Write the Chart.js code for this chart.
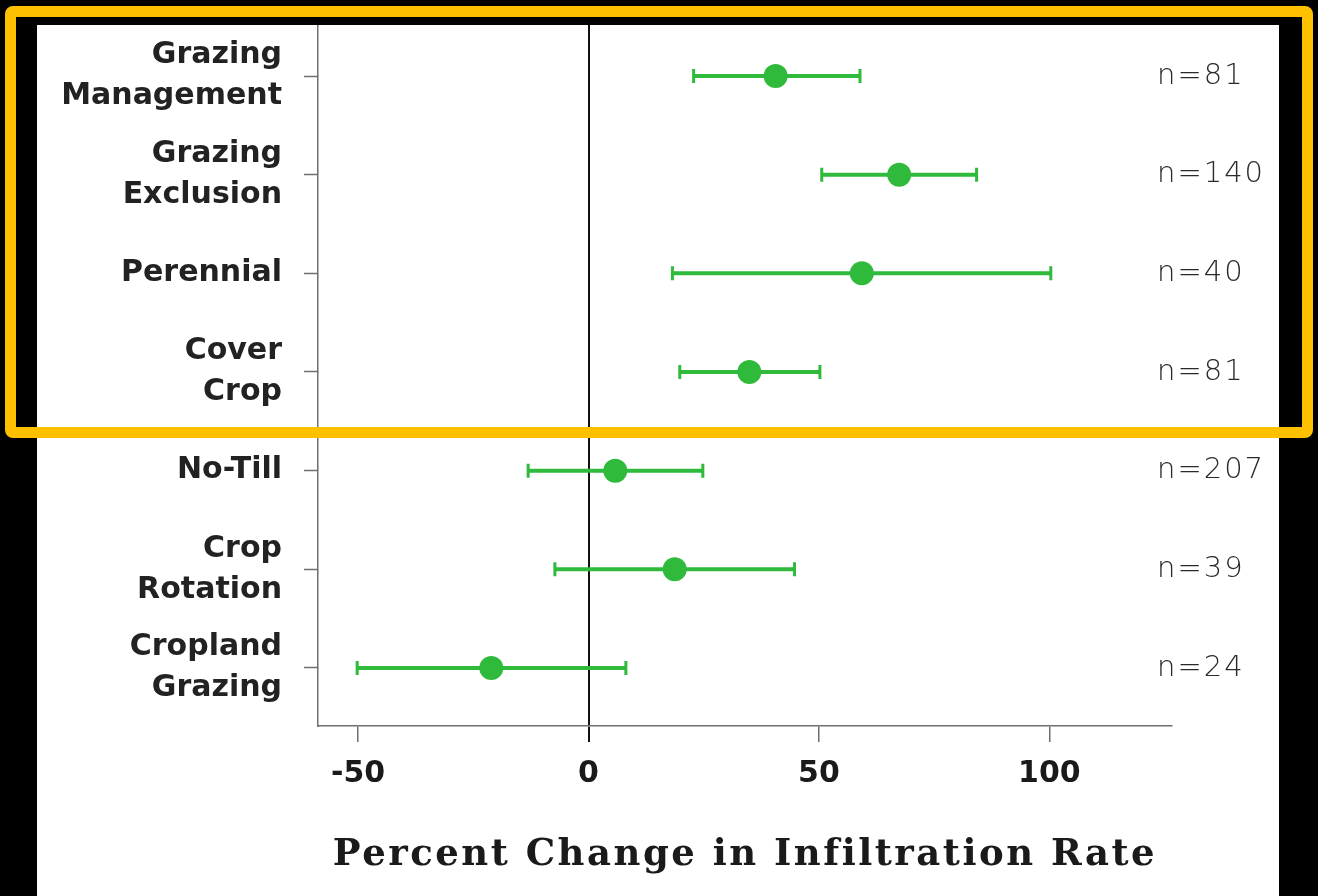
<!DOCTYPE html>
<html>
<head>
<meta charset="utf-8">
<script src="https://cdn.jsdelivr.net/npm/chart.js@4/dist/chart.umd.min.js"></script>
<style>
  html, body { margin: 0; padding: 0; background: #000; width: 1318px; height: 896px; overflow: hidden; }
  #panel { position: absolute; left: 37px; top: 25px; width: 1242px; height: 871px; background: #fff; }
  #box { position: absolute; left: 5px; top: 6px; width: 1308px; height: 432px; box-sizing: border-box;
         border: 11px solid #ffc000; border-radius: 8px; pointer-events: none; }
</style>
</head>
<body>
<div id="panel"><canvas id="forest" width="1242" height="871"></canvas></div>
<div id="box"></div>
<script>
// practices, top to bottom
const practices = [
  ['Grazing', 'Management'],
  ['Grazing', 'Exclusion'],
  'Perennial',
  ['Cover', 'Crop'],
  'No-Till',
  ['Crop', 'Rotation'],
  ['Cropland', 'Grazing']
];
const meanChange = [40.6, 67.4, 59.3, 34.9, 5.8, 18.7, -21.1];
const lowerCI    = [22.8, 50.6, 18.2, 19.8, -13.1, -7.3, -50.2];
const upperCI    = [58.9, 84.2, 100.3, 50.2, 24.8, 44.7, 8.1];
const sampleN    = [81, 140, 40, 81, 207, 39, 24];
const xTicks     = [-50, 0, 50, 100];

const green = '#2fba3c';
const axisGray = '#6f6f6f';

// serif axis title is tracked out a little in the original
const titleSpacing = {
  id: 'titleSpacing',
  afterUpdate(chart) {
    const xs = chart.scales.x;
    if (xs._spaced) return;
    const orig = xs.drawTitle;
    xs.drawTitle = function () {
      this.ctx.save();
      this.ctx.letterSpacing = '2.5px';
      orig.apply(this, arguments);
      this.ctx.restore();
    };
    xs._spaced = true;
  }
};

// horizontal whiskers with end caps
const whiskers = {
  id: 'whiskers',
  beforeDatasetsDraw(chart) {
    const ctx = chart.ctx, xs = chart.scales.x, ys = chart.scales.y;
    ctx.save();
    ctx.strokeStyle = green;
    lowerCI.forEach((lo, i) => {
      const x1 = xs.getPixelForValue(lo), x2 = xs.getPixelForValue(upperCI[i]);
      const y = ys.getPixelForValue(i);
      ctx.lineWidth = 4;
      ctx.beginPath();
      ctx.moveTo(x1, y); ctx.lineTo(x2, y);
      ctx.stroke();
      ctx.lineWidth = 3;
      ctx.beginPath();
      ctx.moveTo(x1, y - 7); ctx.lineTo(x1, y + 7);
      ctx.moveTo(x2, y - 7); ctx.lineTo(x2, y + 7);
      ctx.stroke();
    });
    ctx.restore();
  }
};

// sample sizes on the right
const counts = {
  id: 'counts',
  afterDraw(chart) {
    const ctx = chart.ctx, ys = chart.scales.y;
    ctx.save();
    ctx.letterSpacing = '2px';
    ctx.font = '200 29px "DejaVu Sans"';
    ctx.fillStyle = '#2a2a2a';
    ctx.textAlign = 'left';
    ctx.textBaseline = 'middle';
    sampleN.forEach((n, i) => {
      ctx.fillText('n=' + n, chart.chartArea.right - 15, ys.getPixelForValue(i));
    });
    ctx.restore();
  }
};

const config = {
  type: 'scatter',
  data: {
    datasets: [{
      data: meanChange.map((m, i) => ({ x: m, y: i })),
      backgroundColor: green,
      borderWidth: 0,
      pointRadius: 12,
      pointHoverRadius: 12
    }]
  },
  options: {
    responsive: false,
    animation: false,
    layout: { autoPadding: false, padding: { top: 0, right: 107, bottom: 0, left: 0 } },
    plugins: {
      legend: { display: false },
      tooltip: { enabled: false }
    },
    scales: {
      x: {
        type: 'linear',
        min: -58.7,
        max: 126.6,
        afterBuildTicks: (s) => { s.ticks = xTicks.map(v => ({ value: v })); },
        afterFit: (s) => { s.height = 170; s.paddingLeft = 0; s.paddingRight = 0; },
        border: { display: true, color: axisGray, width: 1.5 },
        grid: {
          drawOnChartArea: true,
          color: (c) => c.tick && c.tick.value === 0 ? '#111' : 'rgba(0,0,0,0)',
          lineWidth: (c) => c.tick && c.tick.value === 0 ? 2 : 1.5,
          tickColor: (c) => c.tick && c.tick.value === 0 ? '#111' : axisGray,
          tickWidth: (c) => c.tick && c.tick.value === 0 ? 2 : 1.5,
          tickLength: 16
        },
        ticks: {
          color: '#1a1a1a',
          padding: 14,
          font: { family: '"DejaVu Sans"', size: 30, weight: 'bold' }
        },
        title: {
          display: true,
          text: 'Percent Change in Infiltration Rate',
          color: '#1a1a1a',
          font: { family: '"DejaVu Serif"', size: 37, weight: 'bold' },
          padding: { top: 0, bottom: 18 }
        }
      },
      y: {
        type: 'linear',
        reverse: true,
        min: -0.517,
        max: 6.588,
        afterBuildTicks: (s) => { s.ticks = practices.map((p, i) => ({ value: i })); },
        afterFit: (s) => { s.width = 281; s.paddingTop = 0; s.paddingBottom = 0; },
        border: { display: true, color: axisGray, width: 1.5 },
        grid: {
          drawOnChartArea: false,
          tickColor: axisGray,
          tickWidth: 1.5,
          tickLength: 14
        },
        ticks: {
          color: '#222',
          padding: 22,
          font: { family: '"DejaVu Sans"', size: 30, weight: 'bold', lineHeight: 1.37 },
          callback: (v) => practices[v]
        }
      }
    }
  },
  plugins: [titleSpacing, whiskers, counts]
};

const chart = new Chart('forest', config);
</script>
</body>
</html>
